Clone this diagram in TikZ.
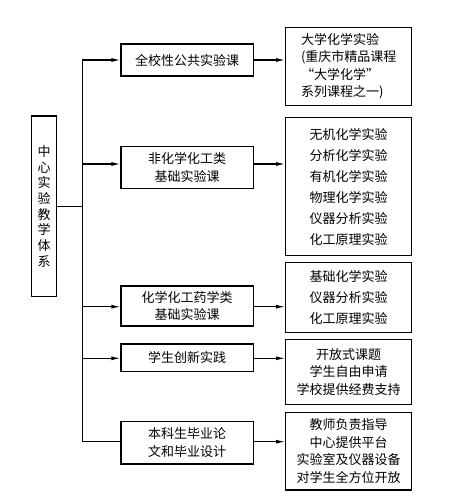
\documentclass[tikz,border=0pt]{standalone}
\usepackage{fontspec}
\newfontfamily\cjk{Noto Sans CJK SC}
\usetikzlibrary{arrows.meta}
\begin{document}
\begin{tikzpicture}[x=1pt,y=-1pt,
  box/.style={draw,line width=1.3pt,inner sep=0pt,align=center,
    font=\cjk\fontsize{13}{17.5}\selectfont},
  wide/.style={font=\cjk\fontsize{13}{21}\selectfont},
  conn/.style={line width=1.1pt},
  arr/.style={conn,-{Latex[length=9pt,width=4pt]}}]
\useasboundingbox (0,0) rectangle (458,503);
% left
\node[box,minimum width=25pt,minimum height=180.7pt,
  font=\cjk\fontsize{13}{15.7}\selectfont] (L) at (44.2,206.3)
  {中\\心\\实\\验\\教\\学\\体\\系};
% middle
\node[box,minimum width=132.3pt,minimum height=32pt] (M1) at (187.2,60) {全校性公共实验课};
\node[box,minimum width=132.3pt,minimum height=41.6pt] (M2) at (187.2,167.5) {非化学化工类\\基础实验课};
\node[box,minimum width=132.3pt,minimum height=40pt] (M3) at (187.2,306) {化学化工药学类\\基础实验课};
\node[box,minimum width=132.3pt,minimum height=27.3pt] (M4) at (187.2,357.7) {学生创新实践};
\node[box,minimum width=132.3pt,minimum height=42.3pt] (M5) at (187.2,442.8) {本科生毕业论\\文和毕业设计};
% right
\node[box,align=left,minimum width=126pt,minimum height=78pt] (R1) at (348.7,66.3)
  {大学化学实验\\(重庆市精品课程\\“大学化学”\\系列课程之一)};
\node[box,wide,minimum width=126pt,minimum height=138pt] (R2) at (348.7,186.7)
  {无机化学实验\\分析化学实验\\有机化学实验\\物理化学实验\\仪器分析实验\\化工原理实验};
\node[box,wide,minimum width=126pt,minimum height=70pt] (R3) at (348.7,297.3)
  {基础化学实验\\仪器分析实验\\化工原理实验};
\node[box,minimum width=126pt,minimum height=65.4pt] (R4) at (348.7,372)
  {开放式课题\\学生自由申请\\学校提供经费支持};
\node[box,minimum width=126pt,minimum height=77.7pt] (R5) at (348.7,451.2)
  {教师负责指导\\中心提供平台\\实验室及仪器设备\\对学生全方位开放};
% junction coordinates
\coordinate (j) at (82.3,206.5);
\coordinate (t1) at (82.3,60);
\coordinate (t2) at (82.3,164);
\coordinate (t3) at (82.3,306.7);
\coordinate (t4) at (82.3,358.3);
\coordinate (t5) at (82.3,441.7);
\draw[conn] (L.east |- j) -- (j);
\draw[conn] (t1) -- (t5) -- (M5.west |- t5);
\draw[arr] (t1) -- (M1.west |- t1);
\draw[arr] (t2) -- (M2.west |- t2);
\draw[arr] (t3) -- (M3.west |- t3);
\draw[arr] (t4) -- (M4.west |- t4);
\draw[arr] (M1.east |- t1) -- (R1.west |- t1);
\draw[arr] (M2.east |- t2) -- (R2.west |- t2);
\draw[arr] (M3.east |- t3) -- (R3.west |- t3);
\draw[arr] (M4.east |- t4) -- (R4.west |- t4);
\draw[arr] (M5.east |- t5) -- (R5.west |- t5);
\end{tikzpicture}
\end{document}
